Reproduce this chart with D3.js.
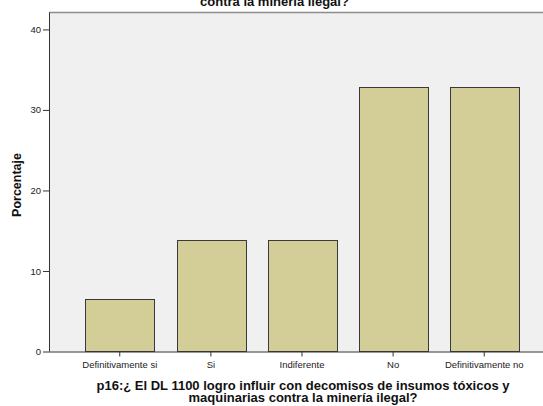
<!DOCTYPE html>
<html>
<head>
<meta charset="utf-8">
<script src="https://cdn.jsdelivr.net/npm/d3@7"></script>
<style>
  body { margin: 0; background: #fff; }
  svg { display: block; font-family: Arial, "Liberation Sans", sans-serif; }
</style>
</head>
<body>
<script>
// data (n = 137: 9, 19, 19, 45, 45)
var categories = ["Definitivamente si", "Si", "Indiferente", "No", "Definitivamente no"];
var percents = [6.57, 13.87, 13.87, 32.85, 32.85];
var yTicks = [0, 10, 20, 30, 40];
var titleLines = ["p16:¿ El DL 1100 logro influir con decomisos de insumos tóxicos y maquinarias", "contra la minería ilegal?"];
var xTitleLines = ["p16:¿ El DL 1100 logro influir con decomisos de insumos tóxicos y", "maquinarias contra la minería ilegal?"];
var yTitle = "Porcentaje";

var width = 543, height = 406;
var plotLeft = 49, plotTop = 12.5, plotBottom = 351.5, plotRight = 555;

var svg = d3.select("body").append("svg")
    .attr("width", width)
    .attr("height", height);

var x = d3.scaleBand()
    .domain(categories)
    .range([plotLeft, plotRight])
    .paddingInner(0.247)
    .paddingOuter(0.4);

var y = d3.scaleLinear()
    .domain([0, 42.1])
    .range([plotBottom, plotTop]);

// plot background
svg.append("rect")
    .attr("x", plotLeft).attr("y", plotTop)
    .attr("width", plotRight - plotLeft).attr("height", plotBottom - plotTop)
    .attr("fill", "#f0f0f0");
svg.append("line")
    .attr("x1", plotLeft).attr("x2", plotRight)
    .attr("y1", plotTop).attr("y2", plotTop)
    .attr("stroke", "#8c8c8c").attr("stroke-width", 1.5);

// bars
svg.selectAll(".bar")
    .data(percents)
    .enter().append("rect")
    .attr("class", "bar")
    .attr("x", function (d, i) { return Math.round(x(categories[i])) + 0.5; })
    .attr("y", function (d) { return Math.round(y(d)) + 0.5; })
    .attr("width", function () { return Math.round(x.bandwidth()); })
    .attr("height", function (d) { return plotBottom - Math.round(y(d)) - 0.5; })
    .attr("fill", "#d3ce98")
    .attr("stroke", "#3a3a3a")
    .attr("stroke-width", 1);

// y axis
var yAxis = svg.append("g")
    .attr("transform", "translate(" + plotLeft + ",0)")
    .call(d3.axisLeft(y).tickValues(yTicks).tickSize(6).tickPadding(2));
yAxis.select(".domain").attr("stroke", "#333").attr("d", "M0.5," + plotTop + "V" + plotBottom);
yAxis.selectAll(".tick line").attr("stroke", "#333");
yAxis.selectAll("text").attr("font-size", 9.5).attr("fill", "#222");

// x axis
var xAxis = svg.append("g")
    .attr("transform", "translate(0," + plotBottom + ")")
    .call(d3.axisBottom(x).tickSize(5).tickPadding(5));
xAxis.select(".domain").attr("stroke", "#333").attr("d", "M" + plotLeft + ",0.5H" + plotRight);
xAxis.selectAll(".tick line").attr("stroke", "#333");
xAxis.selectAll("text").attr("font-size", 9.5).attr("fill", "#222");

// titles
svg.append("g").selectAll("text")
    .data(titleLines)
    .enter().append("text")
    .attr("x", 274.5)
    .attr("y", function (d, i) { return 5.5 - (titleLines.length - 1 - i) * 12; })
    .attr("text-anchor", "middle")
    .attr("font-size", 13).attr("font-weight", "bold").attr("fill", "#111")
    .text(function (d) { return d; });

svg.append("g").selectAll("text")
    .data(xTitleLines)
    .enter().append("text")
    .attr("x", 303)
    .attr("y", function (d, i) { return 390 + i * 12; })
    .attr("text-anchor", "middle")
    .attr("font-size", 13).attr("font-weight", "bold").attr("fill", "#111")
    .text(function (d) { return d; });

svg.append("text")
    .attr("transform", "translate(21,185) rotate(-90)")
    .attr("text-anchor", "middle")
    .attr("font-size", 12.5).attr("font-weight", "bold").attr("fill", "#111")
    .text(yTitle);
</script>
</body>
</html>
